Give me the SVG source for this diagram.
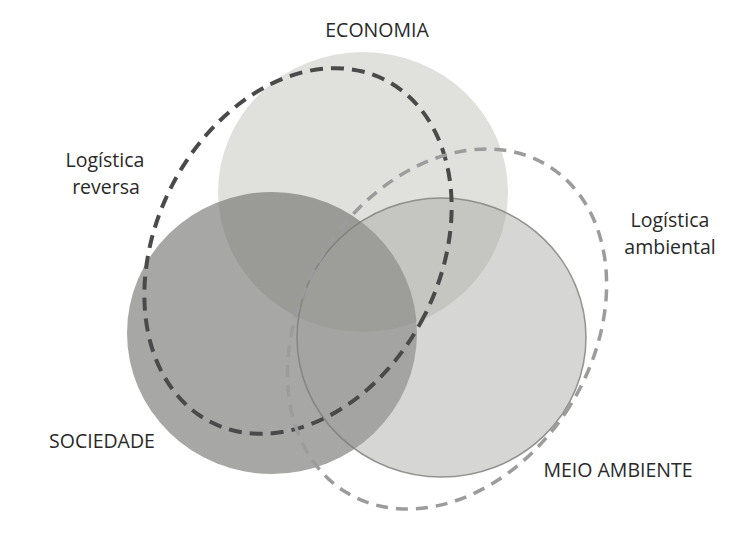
<svg xmlns="http://www.w3.org/2000/svg" width="752" height="534" viewBox="0 0 752 534">
  <style>
    .label { font-family: "Open Sans", "Liberation Sans", sans-serif; font-size: 19.5px; font-weight: 500; fill: #292929; text-anchor: middle; }
    .dash-dark { fill: none; stroke: #4a4a4a; stroke-width: 4; stroke-dasharray: 13 8; }
    .dash-light { fill: none; stroke: #9c9c9c; stroke-width: 3.5; stroke-dasharray: 12 8; }
  </style>
  <rect width="752" height="534" fill="#ffffff"/>

  <!-- three sustainability spheres -->
  <g id="economia">
    <ellipse cx="363" cy="192" rx="145" ry="140" fill="#e0e1dd"/>
    <text class="label" x="377" y="37">ECONOMIA</text>
  </g>
  <g id="sociedade">
    <ellipse cx="272" cy="333" rx="145" ry="141" fill="#656662" fill-opacity="0.57"/>
    <text class="label" x="102" y="448">SOCIEDADE</text>
  </g>
  <g id="meio-ambiente">
    <ellipse cx="441.5" cy="337.5" rx="144.5" ry="139.5" fill="#a1a29e" fill-opacity="0.44" stroke="#7d7d7a" stroke-opacity="0.8" stroke-width="1.5"/>
    <text class="label" x="618" y="477">MEIO AMBIENTE</text>
  </g>

  <!-- logistics scopes drawn as dashed outlines -->
  <g id="logistica-reversa">
    <ellipse class="dash-dark" cx="298" cy="251" rx="142" ry="192" transform="rotate(27 298 251)"/>
    <text class="label" x="105" y="167">Logística</text>
    <text class="label" x="106" y="194">reversa</text>
  </g>
  <g id="logistica-ambiental">
    <ellipse class="dash-light" cx="447" cy="329" rx="145" ry="192" transform="rotate(32 447 329)"/>
    <text class="label" x="670" y="227">Logística</text>
    <text class="label" x="670" y="254">ambiental</text>
  </g>

  <g id="connectors"/>
</svg>
